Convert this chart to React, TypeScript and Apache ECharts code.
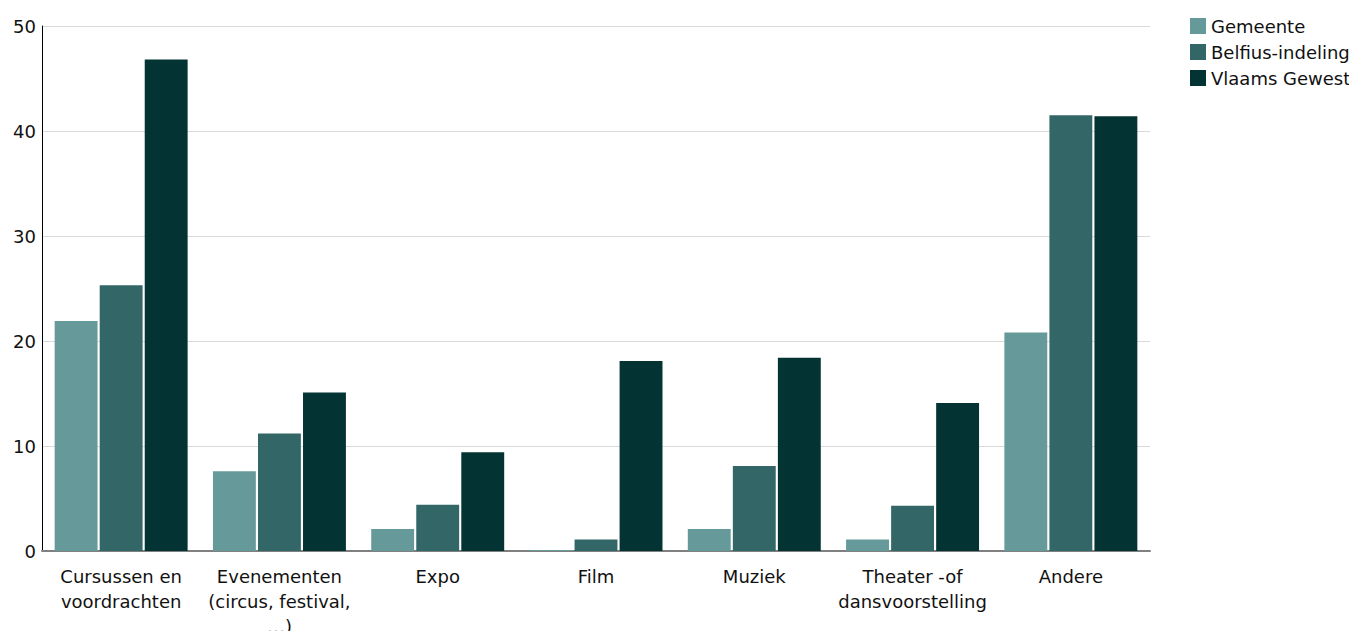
import React, { useEffect, useRef } from "react";
import * as echarts from "echarts";

const categories = [
  "Cursussen en\nvoordrachten",
  "Evenementen\n(circus, festival,\n…)",
  "Expo",
  "Film",
  "Muziek",
  "Theater -of\ndansvoorstelling",
  "Andere",
];
const gemeente = [21.9, 7.6, 2.1, 0.1, 2.1, 1.1, 20.8];
const belfius = [25.3, 11.2, 4.4, 1.1, 8.1, 4.3, 41.5];
const vlaams = [46.8, 15.1, 9.4, 18.1, 18.4, 14.1, 41.4];
const seriesNames = ["Gemeente", "Belfius-indeling", "Vlaams Gewest"];
const colors = ["#669999", "#336666", "#033333"];

const FONT = "DejaVu Sans";

export default function App() {
  const ref = useRef<HTMLDivElement>(null);
  useEffect(() => {
    const chart = echarts.init(ref.current!, null, { renderer: "svg" });
    const data = [gemeente, belfius, vlaams];
    chart.setOption({
      animation: false,
      textStyle: { fontFamily: FONT },
      grid: {
        left: 34,
        right: 199,
        top: 18,
        bottom: 88,
        containLabel: false,
        outerBoundsMode: "none",
      },
      legend: {
        orient: "vertical",
        left: 1177,
        top: 4,
        itemWidth: 16,
        itemHeight: 16,
        itemGap: 8,
        icon: "rect",
        textStyle: { fontFamily: FONT, fontSize: 18, color: "#111" },
        data: seriesNames,
      },
      xAxis: {
        type: "category",
        data: categories,
        axisLine: { lineStyle: { color: "#808080", width: 2 } },
        axisTick: { show: false },
        axisLabel: {
          interval: 0,
          fontFamily: FONT,
          fontSize: 18,
          color: "#111",
          lineHeight: 25,
          margin: 13,
        },
      },
      yAxis: {
        type: "value",
        min: 0,
        max: 50,
        interval: 10,
        axisLine: { show: true, lineStyle: { color: "#000", width: 1 } },
        axisTick: { show: false },
        splitLine: { lineStyle: { color: "#d9d9d9", width: 1 } },
        axisLabel: { fontFamily: FONT, fontSize: 18, color: "#111", margin: 6 },
      },
      series: data.map((d, i) => ({
        name: seriesNames[i],
        type: "bar",
        data: d,
        itemStyle: { color: colors[i] },
        barGap: "5%",
        barCategoryGap: "16%",
      })),
    });
    return () => chart.dispose();
  }, []);
  return <div ref={ref} style={{ width: 1341, height: 631, marginBottom: -8 }} />;
}
